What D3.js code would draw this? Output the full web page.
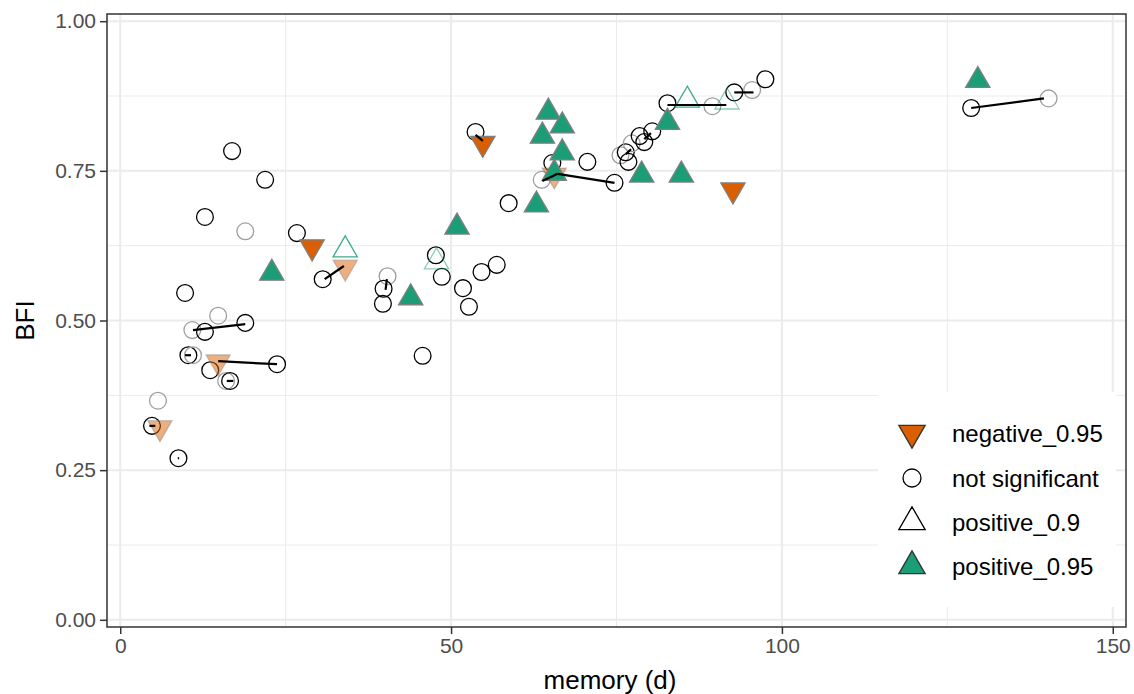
<!DOCTYPE html>
<html>
<head>
<meta charset="utf-8">
<script src="https://cdn.jsdelivr.net/npm/d3@7"></script>
<style>
  body { margin: 0; background: #fff; }
  svg { display: block; font-family: "Liberation Sans", Arial, sans-serif; }
</style>
</head>
<body>
<svg id="chart" width="1134" height="694"></svg>
<script>
// points: memory (d), BFI, significance group, faded (alpha) flag
const memory = [4.8, 5.7, 8.8, 9.8, 10.3, 11.0, 10.9, 12.8, 14.8, 18.9, 13.6, 16.0, 16.6, 23.7,
  16.9, 21.9, 12.8, 18.9, 26.7, 30.6, 40.4, 39.8, 39.7, 47.7, 48.6, 51.8, 52.7, 54.6, 56.9,
  45.7, 58.7, 53.7, 63.7, 65.3, 70.6, 74.7, 75.6, 76.4, 76.8, 77.3, 78.5, 79.2, 80.4, 82.7,
  89.5, 92.8, 95.5, 97.5, 128.6, 140.3,
  29.0, 54.8, 92.6, 14.8, 6.0, 34.0, 65.6,
  34.0, 47.8, 85.7, 91.7,
  22.9, 43.9, 50.9, 64.7, 66.8, 63.8, 66.8, 65.6, 62.9, 78.8, 84.8, 82.7, 129.6];
const bfi = [0.324, 0.366, 0.270, 0.546, 0.442, 0.442, 0.484, 0.481, 0.508, 0.496, 0.417, 0.399, 0.399, 0.427,
  0.783, 0.735, 0.673, 0.649, 0.646, 0.569, 0.574, 0.553, 0.528, 0.609, 0.573, 0.554, 0.523, 0.581, 0.593,
  0.441, 0.696, 0.815, 0.735, 0.763, 0.765, 0.730, 0.776, 0.781, 0.765, 0.796, 0.808, 0.798, 0.816, 0.863,
  0.858, 0.881, 0.885, 0.903, 0.855, 0.871,
  0.623, 0.796, 0.718, 0.431, 0.321, 0.589, 0.743,
  0.618, 0.598, 0.868, 0.865,
  0.579, 0.538, 0.656, 0.848, 0.825, 0.808, 0.780, 0.746, 0.693, 0.743, 0.743, 0.831, 0.901];
const group = [].concat(
  Array(50).fill("not significant"),
  Array(7).fill("negative_0.95"),
  Array(4).fill("positive_0.9"),
  Array(13).fill("positive_0.95"));
const faded = [0, 1, 0, 0, 0, 1, 1, 0, 1, 0, 0, 1, 0, 0,
  0, 0, 0, 1, 0, 0, 1, 0, 0, 0, 0, 0, 0, 0, 0,
  0, 0, 0, 1, 0, 0, 0, 1, 0, 0, 1, 0, 0, 0, 0,
  1, 0, 1, 0, 0, 1,
  0, 0, 0, 1, 1, 1, 1,
  0, 1, 0, 1,
  0, 0, 0, 0, 0, 0, 0, 0, 0, 0, 0, 0, 0];

// segments joining paired estimates
const segFromX = [11.0, 14.8, 30.9, 40.3, 53.7, 63.8, 66.1, 82.7, 92.8, 128.6, 4.4, 9.8, 16.1, 8.7, 76.4, 79.2];
const segFromY = [0.484, 0.432, 0.569, 0.569, 0.810, 0.733, 0.745, 0.860, 0.881, 0.855, 0.324, 0.442, 0.399, 0.270, 0.778, 0.803];
const segToX = [18.9, 23.7, 33.8, 40.1, 54.8, 66.1, 74.7, 91.6, 95.7, 139.6, 5.3, 10.7, 17.1, 8.9, 77.2, 80.2];
const segToY = [0.494, 0.427, 0.591, 0.551, 0.800, 0.745, 0.730, 0.860, 0.881, 0.871, 0.324, 0.442, 0.399, 0.270, 0.786, 0.813];

const xTicks = [0, 50, 100, 150];
const xMinor = [25, 75, 125];
const yTicks = [0, 0.25, 0.5, 0.75, 1];
const yMinor = [0.125, 0.375, 0.625, 0.875];
const legendLabels = ["negative_0.95", "not significant", "positive_0.9", "positive_0.95"];

const orange = "#D95F02", green = "#1B9E77";

const svg = d3.select("#chart");
const pL = 107, pR = 1126, pT = 14, pB = 627;

const x = d3.scaleLinear().domain([-2, 152]).range([pL, pR]);
const y = d3.scaleLinear().domain([-0.012, 1.012]).range([pB, pT]);

svg.append("rect").attr("x", pL).attr("y", pT)
  .attr("width", pR - pL).attr("height", pB - pT).attr("fill", "#fff");

// grid
const grid = svg.append("g");
grid.selectAll(".xmin").data(xMinor).enter().append("line")
  .attr("x1", d => x(d)).attr("x2", d => x(d)).attr("y1", pT).attr("y2", pB)
  .attr("stroke", "#EBEBEB").attr("stroke-width", 1);
grid.selectAll(".ymin").data(yMinor).enter().append("line")
  .attr("y1", d => y(d)).attr("y2", d => y(d)).attr("x1", pL).attr("x2", pR)
  .attr("stroke", "#EBEBEB").attr("stroke-width", 1);
grid.selectAll(".xmaj").data(xTicks).enter().append("line")
  .attr("x1", d => x(d)).attr("x2", d => x(d)).attr("y1", pT).attr("y2", pB)
  .attr("stroke", "#EBEBEB").attr("stroke-width", 2);
grid.selectAll(".ymaj").data(yTicks).enter().append("line")
  .attr("y1", d => y(d)).attr("y2", d => y(d)).attr("x1", pL).attr("x2", pR)
  .attr("stroke", "#EBEBEB").attr("stroke-width", 2);

// points
const pts = memory.map((m, i) => ({ m: m, b: bfi[i], g: group[i], f: faded[i] }));
const tri = d3.symbol().type(d3.symbolTriangle).size(255);

const circles = pts.filter(d => d.g === "not significant");
svg.append("g").selectAll("circle").data(circles).enter().append("circle")
  .attr("cx", d => x(d.m)).attr("cy", d => y(d.b)).attr("r", 8.4)
  .attr("fill", "none")
  .attr("stroke", d => d.f ? "#9E9E9E" : "#000")
  .attr("stroke-width", 1.3);

const tris = pts.filter(d => d.g !== "not significant");
svg.append("g").selectAll("path").data(tris).enter().append("path")
  .attr("d", tri)
  .attr("transform", d => "translate(" + x(d.m) + "," + y(d.b) + ")" + (d.g === "negative_0.95" ? " rotate(180)" : ""))
  .attr("fill", d => d.g === "negative_0.95" ? orange : d.g === "positive_0.95" ? green : "none")
  .attr("fill-opacity", d => d.f ? 0.5 : 1)
  .attr("stroke", d => d.g === "positive_0.9" ? green : "#7F7F7F")
  .attr("stroke-opacity", d => d.g === "positive_0.9" ? (d.f ? 0.5 : 0.85) : (d.f ? 0.4 : 1))
  .attr("stroke-width", 1.3);

// segments
svg.append("g").selectAll("line").data(segFromX).enter().append("line")
  .attr("x1", (d, i) => x(segFromX[i])).attr("y1", (d, i) => y(segFromY[i]))
  .attr("x2", (d, i) => x(segToX[i])).attr("y2", (d, i) => y(segToY[i]))
  .attr("stroke", "#000").attr("stroke-width", 2.2);

// legend
const lg = svg.append("g");
lg.append("rect").attr("x", 878).attr("y", 392).attr("width", 238).attr("height", 215).attr("fill", "#fff");
const rowY = [433, 478, 522, 566];
legendLabels.forEach((lab, i) => {
  const cx = 912, cy = rowY[i];
  if (lab === "not significant") {
    lg.append("circle").attr("cx", cx).attr("cy", cy).attr("r", 9)
      .attr("fill", "none").attr("stroke", "#000").attr("stroke-width", 1.3);
  } else {
    lg.append("path").attr("d", d3.symbol().type(d3.symbolTriangle).size(300)())
      .attr("transform", "translate(" + cx + "," + cy + ")" + (lab === "negative_0.95" ? " rotate(180)" : ""))
      .attr("fill", lab === "negative_0.95" ? orange : lab === "positive_0.95" ? green : "#fff")
      .attr("stroke", lab === "positive_0.9" ? "#000" : "#333").attr("stroke-width", 1.3);
  }
  lg.append("text").attr("x", 952).attr("y", cy).attr("dy", "0.36em")
    .attr("font-size", 24).attr("fill", "#000").text(lab);
});

// panel border
svg.append("rect").attr("x", pL).attr("y", pT)
  .attr("width", pR - pL).attr("height", pB - pT)
  .attr("fill", "none").attr("stroke", "#333").attr("stroke-width", 1.5);

// axes
const xAxis = svg.append("g").attr("transform", "translate(0," + pB + ")")
  .call(d3.axisBottom(x).tickValues(xTicks).tickSize(7).tickSizeOuter(0).tickPadding(4));
const yAxis = svg.append("g").attr("transform", "translate(" + pL + ",0)")
  .call(d3.axisLeft(y).tickValues(yTicks).tickFormat(d3.format(".2f")).tickSize(7).tickSizeOuter(0).tickPadding(4));
[xAxis, yAxis].forEach(a => {
  a.select(".domain").remove();
  a.selectAll(".tick line").attr("stroke", "#333").attr("stroke-width", 1.5);
  a.selectAll(".tick text").attr("fill", "#4D4D4D").attr("font-size", 21)
    .attr("font-family", "'Liberation Sans', Arial, sans-serif");
});

svg.append("text").attr("x", 610).attr("y", 689).attr("text-anchor", "middle")
  .attr("font-size", 26).attr("fill", "#000").text("memory (d)");
svg.append("text").attr("transform", "translate(34," + (pT + pB) / 2 + ") rotate(-90)")
  .attr("text-anchor", "middle").attr("font-size", 26).attr("fill", "#000").text("BFI");
</script>
</body>
</html>
